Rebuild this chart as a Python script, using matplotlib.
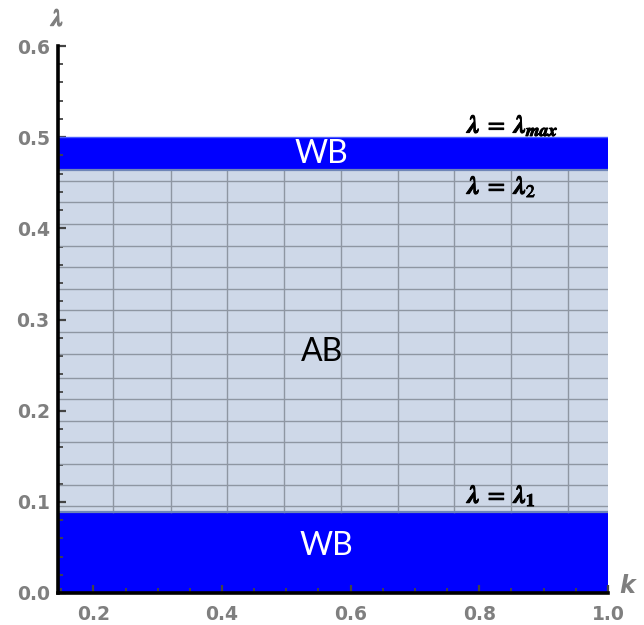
import matplotlib
matplotlib.use("Agg")
import matplotlib.pyplot as plt
import matplotlib.patheffects as pe
from matplotlib.ticker import MultipleLocator, FormatStrFormatter

plt.rcParams["mathtext.fontset"] = "stix"

# ---- data ----
k_range = [0.145, 1.0]
lambda_1 = 0.089
lambda_2 = 0.4636
lambda_max = 0.5
mesh_k = [0.231, 0.320, 0.408, 0.497, 0.585, 0.673, 0.761, 0.850, 0.938]
mesh_lambda = [0.0953, 0.1185, 0.1420, 0.1655, 0.1891, 0.2127, 0.2362, 0.2624,
               0.2862, 0.3100, 0.3335, 0.3575, 0.3810, 0.4047, 0.4284, 0.4516]
x_ticks = [0.2, 0.4, 0.6, 0.8, 1.0]
y_ticks = [0.0, 0.1, 0.2, 0.3, 0.4, 0.5, 0.6]

BLUE = "#0000FF"
LIGHT = "#CED8E8"
MESH = "#8E96A2"
GRAY = "#7F7F7F"

fig = plt.figure(figsize=(6.44, 6.25), dpi=100)
ax = fig.add_axes([0.090, 0.0512, 0.854, 0.8752])

# regions
ax.fill_between(k_range, 0, lambda_1, color=BLUE, lw=0, zorder=1)
ax.fill_between(k_range, lambda_1, lambda_2, color=LIGHT, lw=0, zorder=1)
ax.fill_between(k_range, lambda_2, lambda_max, color=BLUE, lw=0, zorder=1)

# mesh
for kv in mesh_k:
    ax.plot([kv, kv], [lambda_1, lambda_2], color=MESH, lw=1.0, zorder=2)
for lv in mesh_lambda:
    ax.plot(k_range, [lv, lv], color=MESH, lw=1.0, zorder=2)
# region boundaries
ax.plot(k_range, [lambda_1, lambda_1], color="#6F86B8", lw=1.6, zorder=3)
ax.plot(k_range, [lambda_2, lambda_2], color="#6F86B8", lw=1.6, zorder=3)
ax.plot(k_range, [lambda_max, lambda_max], color="#4A5CFF", lw=1.0, zorder=3)

ax.set_xlim(k_range[0], 1.0)
ax.set_ylim(0, 0.6)

for s in ["top", "right"]:
    ax.spines[s].set_visible(False)
for s in ["left", "bottom"]:
    ax.spines[s].set_linewidth(2.6)
    ax.spines[s].set_color("black")
    ax.spines[s].set_zorder(5)

ax.set_xticks(x_ticks)
ax.set_yticks(y_ticks)
ax.xaxis.set_minor_locator(MultipleLocator(0.05))
ax.yaxis.set_minor_locator(MultipleLocator(0.02))
ax.xaxis.set_major_formatter(FormatStrFormatter("%.1f"))
ax.yaxis.set_major_formatter(FormatStrFormatter("%.1f"))
ax.tick_params(which="major", direction="in", length=6, width=1.6, color="#444444",
               labelsize=13.5, labelcolor=GRAY, pad=6)
ax.tick_params(which="minor", direction="in", length=3.5, width=1.3, color="#444444")
ax.tick_params(axis="x", which="major", pad=9)
for lab in ax.get_xticklabels() + ax.get_yticklabels():
    lab.set_fontweight("bold")
    lab.set_family("DejaVu Sans")

bold_gray = [pe.withStroke(linewidth=0.8, foreground=GRAY)]
bold_black = [pe.withStroke(linewidth=0.7, foreground="black")]

# axis labels
ax.text(0.0, 1.028, r"$\mathbfit{\lambda}$", transform=ax.transAxes, ha="center",
        va="bottom", fontsize=17, color=GRAY, path_effects=bold_gray)
ax.text(1.035, 0.012, "k", transform=ax.transAxes, ha="center", va="center",
        fontsize=17, color=GRAY, fontstyle="italic", fontweight="bold")

# region labels
ax.text(0.555, 0.482, "WB", ha="center", va="center", color="white", fontsize=23, family="Lato")
ax.text(0.556, 0.264, "AB", ha="center", va="center", color="black", fontsize=23, family="Lato")
ax.text(0.563, 0.052, "WB", ha="center", va="center", color="white", fontsize=23, family="Lato")

ax.text(0.781, 0.513, r"$\mathbfit{\lambda}\;=\;\mathbfit{\lambda}_{\mathbfit{max}}$",
        ha="left", va="center", fontsize=18, color="black", path_effects=bold_black)
ax.text(0.781, 0.446, r"$\mathbfit{\lambda}\;=\;\mathbfit{\lambda}_{2}$",
        ha="left", va="center", fontsize=18, color="black", path_effects=bold_black)
ax.text(0.781, 0.107, r"$\mathbfit{\lambda}\;=\;\mathbfit{\lambda}_{\mathbf{1}}$",
        ha="left", va="center", fontsize=18, color="black", path_effects=bold_black)

fig.savefig("out.png", dpi=100)
